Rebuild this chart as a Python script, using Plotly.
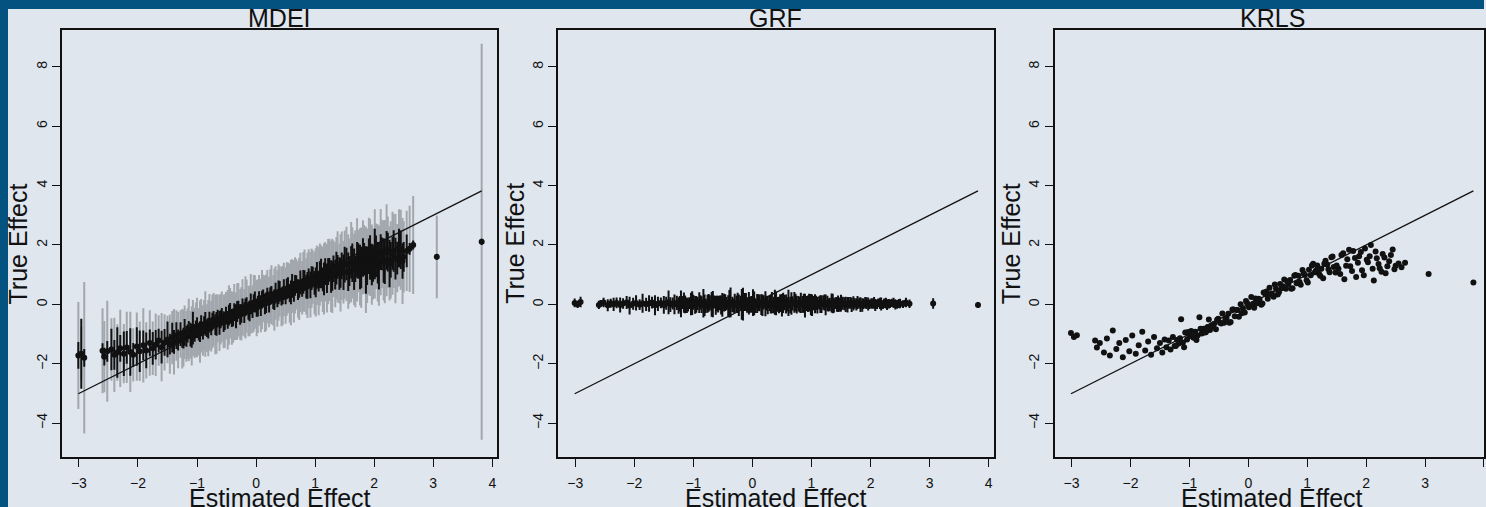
import plotly.graph_objects as go

# ---------------- data ----------------
est_effect = [
    -3.01, -2.96, -2.91, -2.60, -2.57, -2.52, -2.45, -2.40, -2.35, -2.30,
    -2.24, -2.19, -2.13, -2.08, -2.02, -1.97, -1.91, -1.86, -1.80, -1.75,
    -1.70, -1.65, -1.60, -1.55, -1.50, -1.46, -1.42, -1.39, -1.35, -1.32,
    -1.28, -1.25, -1.21, -1.18, -1.14, -1.11, -1.07, -1.04, -1.00, -0.97,
    -0.93, -0.90, -0.86, -0.83, -0.79, -0.76, -0.72, -0.69, -0.65, -0.62,
    -0.58, -0.55, -0.51, -0.48, -0.44, -0.41, -0.37, -0.34, -0.30, -0.27,
    -0.23, -0.20, -0.16, -0.13, -0.09, -0.06, -0.02, 0.01, 0.05, 0.08,
    0.12, 0.15, 0.19, 0.22, 0.26, 0.29, 0.33, 0.36, 0.40, 0.43,
    0.47, 0.50, 0.54, 0.57, 0.61, 0.64, 0.68, 0.71, 0.75, 0.78,
    0.82, 0.85, 0.89, 0.92, 0.96, 0.99, 1.03, 1.06, 1.10, 1.13,
    1.17, 1.20, 1.24, 1.27, 1.31, 1.34, 1.38, 1.41, 1.45, 1.48,
    1.53, 1.58, 1.63, 1.68, 1.73, 1.78, 1.83, 1.88, 1.93, 1.98,
    2.03, 2.08, 2.13, 2.18, 2.23, 2.28, 2.33, 2.39, 2.45, 2.50,
    2.60, 2.66, 3.06, 3.82,
    -1.23, -1.16, -1.09, -1.02, -0.95, -0.88, -0.81, -0.74, -0.67, -0.60,
    -0.53, -0.46, -0.39, -0.32, -0.25, -0.18, -0.11, -0.04, 0.03, 0.10,
    0.17, 0.24, 0.31, 0.38, 0.45, 0.52, 0.59, 0.66, 0.73, 0.80,
    0.87, 0.94, 1.01, 1.08, 1.15, 1.22, 1.29, 1.36, 1.43, 1.50,
    1.56, 1.61, 1.66, 1.71, 1.76, 1.81, 1.86, 1.91, 1.96, 2.01,
    2.06, 2.11, 2.16, 2.21, 2.26, 2.31, 2.36, 2.42, 2.48, 2.55,
]

mdei_true = [
    -1.72, -1.66, -1.80, -1.56, -1.76, -1.58, -1.52, -1.70, -1.62, -1.48,
    -1.66, -1.45, -1.60, -1.70, -1.42, -1.58, -1.38, -1.55, -1.30, -1.48,
    -1.36, -1.22, -1.44, -1.28, -1.18, -1.34, -1.12, -1.26, -1.05, -1.20,
    -1.00, -1.16, -0.94, -1.08, -0.86, -1.02, -0.80, -0.96, -0.78, -0.92,
    -0.72, -0.88, -0.66, -0.80, -0.60, -0.74, -0.52, -0.68, -0.48, -0.62,
    -0.42, -0.58, -0.38, -0.52, -0.30, -0.46, -0.26, -0.40, -0.18, -0.34,
    -0.10, -0.28, -0.06, -0.22, 0.02, -0.16, 0.08, -0.12, 0.14, -0.04,
    0.20, 0.02, 0.26, 0.08, 0.32, 0.14, 0.38, 0.20, 0.44, 0.26,
    0.50, 0.30, 0.56, 0.38, 0.62, 0.44, 0.68, 0.50, 0.74, 0.56,
    0.80, 0.60, 0.86, 0.66, 0.92, 0.72, 0.98, 0.78, 1.04, 0.84,
    1.10, 0.88, 1.16, 0.94, 1.20, 1.00, 1.26, 1.04, 1.30, 1.08,
    1.36, 1.12, 1.40, 1.20, 1.46, 1.24, 1.52, 1.30, 1.58, 1.36,
    1.62, 1.30, 1.70, 1.44, 1.76, 1.50, 1.80, 1.56, 1.84, 1.60,
    1.87, 2.00, 1.60, 2.11,
    -1.14, -0.98, -1.06, -0.84, -0.92, -0.70, -0.80, -0.58, -0.66, -0.50,
    -0.56, -0.36, -0.44, -0.24, -0.32, -0.10, -0.22, 0.04, -0.06, 0.16,
    0.06, 0.28, 0.16, 0.40, 0.30, 0.52, 0.40, 0.64, 0.52, 0.76,
    0.64, 0.88, 0.74, 1.00, 0.86, 1.10, 0.96, 1.22, 1.06, 1.34,
    1.10, 1.42, 1.18, 1.50, 1.26, 1.58, 1.16, 1.62, 1.34, 1.70,
    1.40, 1.76, 1.48, 1.82, 1.38, 1.72, 1.54, 1.90, 1.46, 1.80,
]

mdei_ci_wide = [
    1.80, 0.90, 2.55, 1.43, 1.20, 1.70, 1.05, 1.25, 0.95, 1.30,
    1.00, 1.20, 1.35, 0.90, 1.15, 1.00, 1.25, 0.95, 1.10, 0.90,
    1.05, 0.85, 1.15, 0.95, 0.80, 1.00, 0.90, 1.10, 0.85, 0.95,
    0.80, 1.00, 0.90, 0.85, 1.05, 0.80, 0.95, 0.85, 1.00, 0.80,
    0.90, 0.85, 1.10, 0.80, 0.95, 0.85, 0.90, 1.00, 0.80, 0.95,
    0.85, 0.90, 0.80, 1.00, 0.85, 0.90, 0.95, 0.80, 0.90, 0.85,
    0.95, 0.80, 0.90, 0.85, 1.00, 0.80, 0.90, 0.95, 0.85, 0.90,
    0.80, 0.95, 0.90, 0.85, 1.00, 0.85, 0.90, 0.95, 0.85, 1.00,
    0.90, 0.95, 0.85, 1.00, 0.90, 1.05, 0.85, 0.95, 1.00, 0.90,
    1.05, 0.95, 1.00, 1.10, 0.90, 1.05, 1.00, 1.15, 0.95, 1.10,
    1.00, 1.15, 1.05, 1.20, 0.95, 1.10, 1.20, 1.00, 1.15, 1.05,
    1.25, 1.10, 1.20, 1.30, 1.05, 1.35, 1.15, 1.25, 1.30, 1.20,
    1.10, 1.35, 1.15, 1.40, 1.20, 1.30, 1.25, 1.15, 1.35, 1.20,
    1.45, 1.65, 1.39, 6.67,
    0.95, 0.85, 1.00, 0.90, 1.05, 0.85, 0.95, 0.90, 1.00, 0.85,
    0.90, 1.00, 0.85, 0.95, 0.90, 1.05, 0.85, 0.95, 0.90, 1.00,
    0.95, 0.90, 1.05, 0.95, 1.00, 0.90, 1.10, 0.95, 1.05, 1.00,
    1.10, 1.00, 1.15, 1.05, 1.20, 1.10, 1.25, 1.05, 1.30, 1.15,
    1.25, 1.35, 1.20, 1.40, 1.30, 1.25, 1.45, 1.30, 1.35, 1.50,
    1.30, 1.45, 1.35, 1.55, 1.25, 1.40, 1.50, 1.30, 1.45, 1.35,
]

mdei_ci_narrow = [
    0.45, 1.18, 0.30, 0.25, 0.30, 0.35, 0.70, 0.50, 0.85, 0.45,
    0.75, 0.55, 0.80, 0.40, 0.65, 0.70, 0.50, 0.60, 0.45, 0.55,
    0.50, 0.40, 0.55, 0.45, 0.60, 0.35, 0.50, 0.40, 0.45, 0.35,
    0.40, 0.30, 0.45, 0.35, 0.30, 0.40, 0.55, 0.30, 0.35, 0.30,
    0.35, 0.30, 0.40, 0.30, 0.35, 0.30, 0.30, 0.35, 0.30, 0.40,
    0.30, 0.35, 0.30, 0.30, 0.35, 0.30, 0.30, 0.40, 0.30, 0.35,
    0.30, 0.35, 0.30, 0.30, 0.35, 0.30, 0.35, 0.30, 0.30, 0.35,
    0.30, 0.35, 0.30, 0.35, 0.30, 0.30, 0.35, 0.30, 0.35, 0.30,
    0.35, 0.30, 0.35, 0.30, 0.40, 0.35, 0.30, 0.35, 0.40, 0.30,
    0.35, 0.40, 0.35, 0.45, 0.35, 0.40, 0.45, 0.35, 0.50, 0.40,
    0.45, 0.50, 0.40, 0.55, 0.45, 0.50, 0.40, 0.55, 0.45, 0.60,
    0.55, 0.50, 0.65, 0.45, 0.60, 0.70, 0.55, 0.65, 0.75, 0.60,
    0.70, 0.80, 0.55, 0.75, 0.65, 0.60, 0.70, 0.55, 0.65, 0.50,
    0.20, 0.15, 0.10, 0.10,
    0.35, 0.30, 0.40, 0.30, 0.35, 0.30, 0.35, 0.30, 0.40, 0.30,
    0.30, 0.35, 0.30, 0.35, 0.30, 0.30, 0.35, 0.30, 0.35, 0.30,
    0.35, 0.30, 0.35, 0.40, 0.30, 0.35, 0.40, 0.35, 0.30, 0.40,
    0.45, 0.40, 0.50, 0.45, 0.55, 0.45, 0.50, 0.55, 0.50, 0.60,
    0.65, 0.55, 0.70, 0.60, 0.75, 0.65, 0.80, 0.60, 0.70, 0.85,
    0.70, 0.60, 0.75, 0.65, 0.80, 0.55, 0.70, 0.65, 0.60, 0.55,
]

grf_true = [
    0.05, 0.00, 0.08, -0.02, 0.03, 0.06, -0.03, 0.04, 0.00, 0.05,
    -0.02, 0.03, 0.06, -0.04, 0.02, 0.05, -0.01, 0.04, 0.00, 0.03,
    0.06, -0.03, 0.02, 0.05, -0.02, 0.04, 0.07, -0.01, 0.03, 0.00,
    0.05, -0.04, 0.02, 0.06, 0.00, -0.03, 0.04, 0.01, 0.07, -0.02,
    0.03, 0.06, -0.01, 0.04, -0.05, 0.02, 0.05, 0.00, 0.08, -0.03,
    0.01, 0.05, -0.02, 0.06, 0.03, -0.04, 0.07, 0.00, 0.04, 0.02,
    -0.03, 0.05, 0.01, 0.08, -0.02, 0.04, 0.00, 0.06, -0.04, 0.03,
    0.05, -0.01, 0.07, 0.02, -0.03, 0.04, 0.06, -0.02, 0.03, 0.00,
    0.04, -0.03, 0.06, 0.01, 0.05, -0.02, 0.03, 0.07, -0.01, 0.02,
    0.05, 0.00, -0.04, 0.03, 0.06, -0.01, 0.04, 0.02, -0.03, 0.05,
    0.01, 0.06, -0.02, 0.03, 0.00, 0.05, -0.03, 0.04, 0.02, -0.01,
    0.04, 0.00, 0.05, -0.02, 0.03, 0.06, -0.01, 0.02, 0.04, 0.00,
    0.03, -0.02, 0.05, 0.01, 0.04, -0.01, 0.02, 0.05, 0.00, 0.03,
    0.06, 0.02, 0.03, -0.02,
    0.02, 0.06, -0.02, 0.04, 0.00, 0.07, -0.03, 0.05, 0.01, 0.03,
    -0.02, 0.06, 0.02, -0.04, 0.05, 0.00, 0.08, -0.01, 0.03, 0.06,
    -0.03, 0.04, 0.01, 0.07, -0.02, 0.05, 0.00, 0.03, 0.06, -0.01,
    0.04, 0.02, -0.03, 0.05, 0.01, 0.06, -0.02, 0.03, 0.00, 0.04,
    0.02, -0.01, 0.05, 0.03, 0.00, 0.04, -0.02, 0.06, 0.01, 0.03,
    0.05, 0.00, 0.03, -0.01, 0.04, 0.02, 0.05, 0.00, 0.03, 0.01,
]

grf_ci = [
    0.15, 0.12, 0.18, 0.14, 0.12, 0.16, 0.20, 0.15, 0.22, 0.18,
    0.25, 0.18, 0.22, 0.30, 0.20, 0.26, 0.18, 0.32, 0.22, 0.28,
    0.20, 0.34, 0.24, 0.18, 0.30, 0.22, 0.40, 0.25, 0.20, 0.33,
    0.24, 0.28, 0.45, 0.22, 0.30, 0.26, 0.20, 0.38, 0.25, 0.30,
    0.22, 0.35, 0.28, 0.48, 0.24, 0.30, 0.26, 0.42, 0.22, 0.32,
    0.28, 0.25, 0.40, 0.30, 0.22, 0.35, 0.50, 0.26, 0.32, 0.28,
    0.36, 0.24, 0.55, 0.30, 0.26, 0.38, 0.28, 0.45, 0.25, 0.32,
    0.28, 0.35, 0.24, 0.42, 0.30, 0.26, 0.36, 0.28, 0.40, 0.25,
    0.30, 0.38, 0.26, 0.32, 0.44, 0.28, 0.24, 0.35, 0.30, 0.26,
    0.34, 0.28, 0.40, 0.25, 0.30, 0.36, 0.24, 0.32, 0.28, 0.22,
    0.30, 0.24, 0.35, 0.26, 0.22, 0.32, 0.25, 0.20, 0.28, 0.24,
    0.22, 0.26, 0.20, 0.24, 0.18, 0.22, 0.25, 0.18, 0.20, 0.16,
    0.18, 0.20, 0.15, 0.22, 0.16, 0.18, 0.14, 0.17, 0.15, 0.16,
    0.16, 0.14, 0.18, 0.10,
    0.26, 0.34, 0.22, 0.40, 0.28, 0.24, 0.36, 0.30, 0.44, 0.26,
    0.32, 0.28, 0.46, 0.24, 0.34, 0.52, 0.30, 0.26, 0.40, 0.28,
    0.36, 0.25, 0.32, 0.42, 0.28, 0.34, 0.24, 0.38, 0.30, 0.26,
    0.32, 0.28, 0.36, 0.24, 0.30, 0.27, 0.22, 0.33, 0.25, 0.28,
    0.22, 0.26, 0.20, 0.24, 0.21, 0.18, 0.23, 0.19, 0.22, 0.17,
    0.20, 0.16, 0.19, 0.15, 0.18, 0.16, 0.14, 0.17, 0.15, 0.13,
]

krls_true = [
    -0.96, -1.10, -1.04, -1.22, -1.45, -1.30, -1.62, -1.15, -1.72, -0.88,
    -1.50, -1.30, -1.78, -1.20, -1.58, -1.05, -1.66, -1.38, -0.92, -1.55,
    -1.25, -1.70, -1.10, -1.48, -1.30, -1.62, -1.18, -1.44, -1.22, -1.52,
    -1.10, -1.40, -1.20, -1.32, -0.50, -1.28, -0.95, -1.18, -1.06, -0.90,
    -1.12, -0.92, -1.05, -0.43, -0.98, -0.82, -0.94, -0.76, -0.86, -0.70,
    -0.65, -0.84, -0.48, -0.62, -0.31, -0.62, -0.45, -0.32, -0.59, -0.17,
    -0.40, -0.19, -0.42, 0.00, -0.13, -0.27, 0.05, -0.10, 0.25, 0.02,
    0.20, 0.04, 0.17, -0.01, 0.40, 0.34, 0.19, 0.56, 0.37, 0.26,
    0.53, 0.33, 0.69, 0.54, 0.84, 0.53, 0.69, 0.82, 0.54, 0.96,
    0.71, 0.96, 0.66, 1.16, 0.99, 0.81, 1.17, 0.98, 1.37, 1.08,
    1.31, 1.03, 1.20, 0.88, 1.47, 1.34, 1.08, 1.59, 1.26, 1.07,
    1.20, 1.66, 0.85, 1.52, 1.28, 1.80, 0.92, 1.62, 1.15, 1.88,
    1.42, 2.00, 0.80, 1.55, 1.22, 1.70, 1.05, 1.45, 1.85, 1.30,
    1.25, 1.40, 1.02, 0.74,
    -1.40, -1.14, -1.44, -0.93, -1.08, -1.20, -0.82, -0.95, -0.51, -0.74,
    -0.52, -0.64, -0.48, -0.62, -0.17, -0.19, -0.30, 0.11, -0.05, -0.11,
    0.19, 0.03, 0.43, 0.33, 0.67, 0.41, 0.61, 0.78, 0.53, 0.99,
    0.75, 1.04, 0.74, 1.31, 1.14, 0.96, 1.37, 1.18, 1.61, 1.31,
    1.02, 1.72, 1.30, 1.84, 1.12, 1.56, 1.40, 1.76, 0.98, 1.50,
    1.62, 1.20, 1.78, 1.36, 1.10, 1.58, 1.28, 1.66, 1.18, 1.38,
]

panel_titles = ["MDEI", "GRF", "KRLS"]
x_title = "Estimated Effect"
y_title = "True Effect"
x_ticks = [-3, -2, -1, 0, 1, 2, 3, 4]
y_ticks = [-4, -2, 0, 2, 4, 6, 8]

for arr in (mdei_true, mdei_ci_wide, mdei_ci_narrow, grf_true, grf_ci, krls_true):
    assert len(arr) == len(est_effect), len(arr)

# ---------------- layout constants ----------------
W, H = 1486, 507
BG = "#dfe6ee"
FRAME = "#03527f"
INK = "#111111"
GREY = "#a2a7ad"
FONT = "Liberation Sans, Arial, Helvetica, sans-serif"

panels_px = [(62, 498), (559, 995), (1056, 1486)]
plot_top, plot_bot = 30, 457
x_ranges = [[-3.288, 4.085], [-3.288, 4.085], [-3.288, 4.0]]
y_range = [-5.14, 9.24]

fig = go.Figure()
line_x = [min(est_effect), max(est_effect)]


def add_panel(i, ys, wide=None, narrow=None):
    xa = "x" if i == 0 else f"x{i+1}"
    ya = "y" if i == 0 else f"y{i+1}"
    if wide is not None:
        fig.add_trace(go.Scatter(
            x=est_effect, y=ys, mode="markers", xaxis=xa, yaxis=ya,
            marker=dict(size=1, color="rgba(0,0,0,0)"),
            error_y=dict(type="data", array=wide, symmetric=True, width=0,
                         thickness=2, color=GREY),
            hoverinfo="skip", showlegend=False))
    fig.add_trace(go.Scatter(
        x=line_x, y=line_x, mode="lines", xaxis=xa, yaxis=ya,
        line=dict(color=INK, width=1.3), hoverinfo="skip", showlegend=False))
    fig.add_trace(go.Scatter(
        x=est_effect, y=ys, mode="markers", xaxis=xa, yaxis=ya,
        marker=dict(size=6, color=INK),
        error_y=(dict(type="data", array=narrow, symmetric=True, width=0,
                      thickness=2, color=INK) if narrow is not None else None),
        showlegend=False))


add_panel(0, mdei_true, mdei_ci_wide, mdei_ci_narrow)
add_panel(1, grf_true, None, grf_ci)
add_panel(2, krls_true, None, None)

layout = dict(
    width=W, height=H, margin=dict(l=0, r=0, t=0, b=0),
    paper_bgcolor=BG, plot_bgcolor=BG,
    font=dict(family=FONT, color=INK, size=14),
    showlegend=False,
)

ydom = [1 - plot_bot / H, 1 - plot_top / H]
annotations = []
for i, (l, r) in enumerate(panels_px):
    sx = "" if i == 0 else str(i + 1)
    layout["xaxis" + sx] = dict(
        domain=[l / W, min(r / W, 1.0)], range=x_ranges[i], anchor="y" + sx,
        tickvals=x_ticks, ticks="outside", ticklen=8, tickwidth=1.3,
        tickcolor=INK, showline=True, linecolor=INK, linewidth=1.5,
        mirror=True, showgrid=False, zeroline=False,
        tickfont=dict(size=14, color=INK), ticklabelstandoff=4,
    )
    layout["yaxis" + sx] = dict(
        domain=ydom, range=y_range, anchor="x" + sx,
        tickvals=y_ticks, ticks="outside", ticklen=8, tickwidth=1.3,
        tickcolor=INK, showline=True, linecolor=INK, linewidth=1.5,
        mirror=True, showgrid=False, zeroline=False, tickangle=-90,
        tickfont=dict(size=14, color=INK), ticklabelstandoff=0,
    )
    cx = l + 218
    annotations.append(dict(text=panel_titles[i], x=cx / W, y=1 - 18 / H,
                            xref="paper", yref="paper", showarrow=False,
                            xanchor="center", yanchor="middle",
                            font=dict(size=25, family=FONT, color=INK)))
    annotations.append(dict(text=x_title, x=cx / W, y=1 - 498 / H,
                            xref="paper", yref="paper", showarrow=False,
                            xanchor="center", yanchor="middle",
                            font=dict(size=25, family=FONT, color=INK)))
    annotations.append(dict(text=y_title, x=(l - 44) / W,
                            y=1 - (plot_top + plot_bot) / 2 / H,
                            xref="paper", yref="paper", showarrow=False,
                            xanchor="center", yanchor="middle", textangle=-90,
                            font=dict(size=25, family=FONT, color=INK)))

layout["annotations"] = annotations
layout["shapes"] = [
    dict(type="rect", xref="paper", yref="paper", x0=0, x1=1,
         y0=1 - 9 / H, y1=1, fillcolor=FRAME, line=dict(width=0), layer="above"),
    dict(type="rect", xref="paper", yref="paper", x0=0, x1=8 / W,
         y0=0, y1=1, fillcolor=FRAME, line=dict(width=0), layer="above"),
]
fig.update_layout(**layout)

fig.write_html(
    "out.html",
    config={"displayModeBar": False},
    post_script="document.body.style.margin='0';document.body.style.overflow='hidden';",
)
